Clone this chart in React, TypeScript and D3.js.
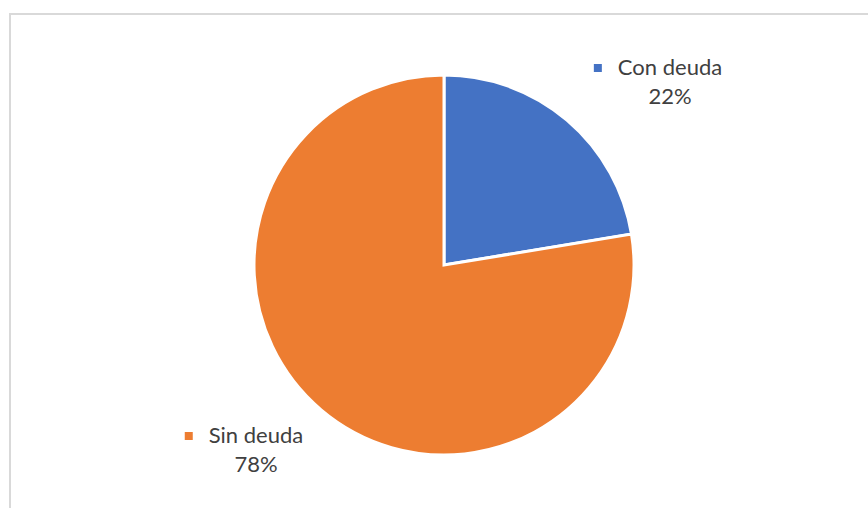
import React, { useEffect, useRef } from "react";
import * as d3 from "d3";

const categories = ["Con deuda", "Sin deuda"];
const values = [22.4, 77.6];
const percentLabels = ["22%", "78%"];
const colors = ["#4472C4", "#ED7D31"];

const W = 868;
const H = 508;
const CX = 444;
const CY = 265;
const R = 190;
const labelPos = [
  { x: 670, y: 75 },
  { x: 256, y: 443 },
];

export default function App() {
  const ref = useRef<SVGSVGElement | null>(null);

  useEffect(() => {
    document.body.style.margin = "0";
    const svg = d3.select(ref.current);
    svg.selectAll("*").remove();

    svg
      .append("rect")
      .attr("x", 10)
      .attr("y", 14)
      .attr("width", 1000)
      .attr("height", 1000)
      .attr("fill", "#fff")
      .attr("stroke", "#d9d9d9")
      .attr("stroke-width", 2);

    const pie = d3.pie<number>().sort(null).value((d) => d);
    const arc = d3.arc<d3.PieArcDatum<number>>().innerRadius(0).outerRadius(R);
    const arcs = pie(values);

    const g = svg.append("g").attr("transform", `translate(${CX},${CY})`);
    g.selectAll("path")
      .data(arcs)
      .join("path")
      .attr("d", arc)
      .attr("fill", (_, i) => colors[i])
      .attr("stroke", "#fff")
      .attr("stroke-width", 3)
      .attr("stroke-linejoin", "miter");

    categories.forEach((c, i) => {
      const p = labelPos[i];
      const lg = svg.append("g");
      const t = lg
        .append("text")
        .attr("x", p.x)
        .attr("y", p.y)
        .attr("text-anchor", "middle")
        .attr("font-family", "Lato, 'Open Sans', sans-serif")
        .attr("font-size", 22)
        .attr("fill", "#404040")
        .text(c);
      lg.append("text")
        .attr("x", p.x)
        .attr("y", p.y + 29)
        .attr("text-anchor", "middle")
        .attr("font-family", "Lato, 'Open Sans', sans-serif")
        .attr("font-size", 22)
        .attr("fill", "#404040")
        .text(percentLabels[i]);
      const w = (t.node() as SVGTextElement).getComputedTextLength();
      lg.append("rect")
        .attr("x", p.x - w / 2 - 24)
        .attr("y", p.y - 11)
        .attr("width", 8)
        .attr("height", 8)
        .attr("fill", colors[i]);
    });
  }, []);

  return <svg ref={ref} width={W} height={H} style={{ display: "block" }} />;
}
